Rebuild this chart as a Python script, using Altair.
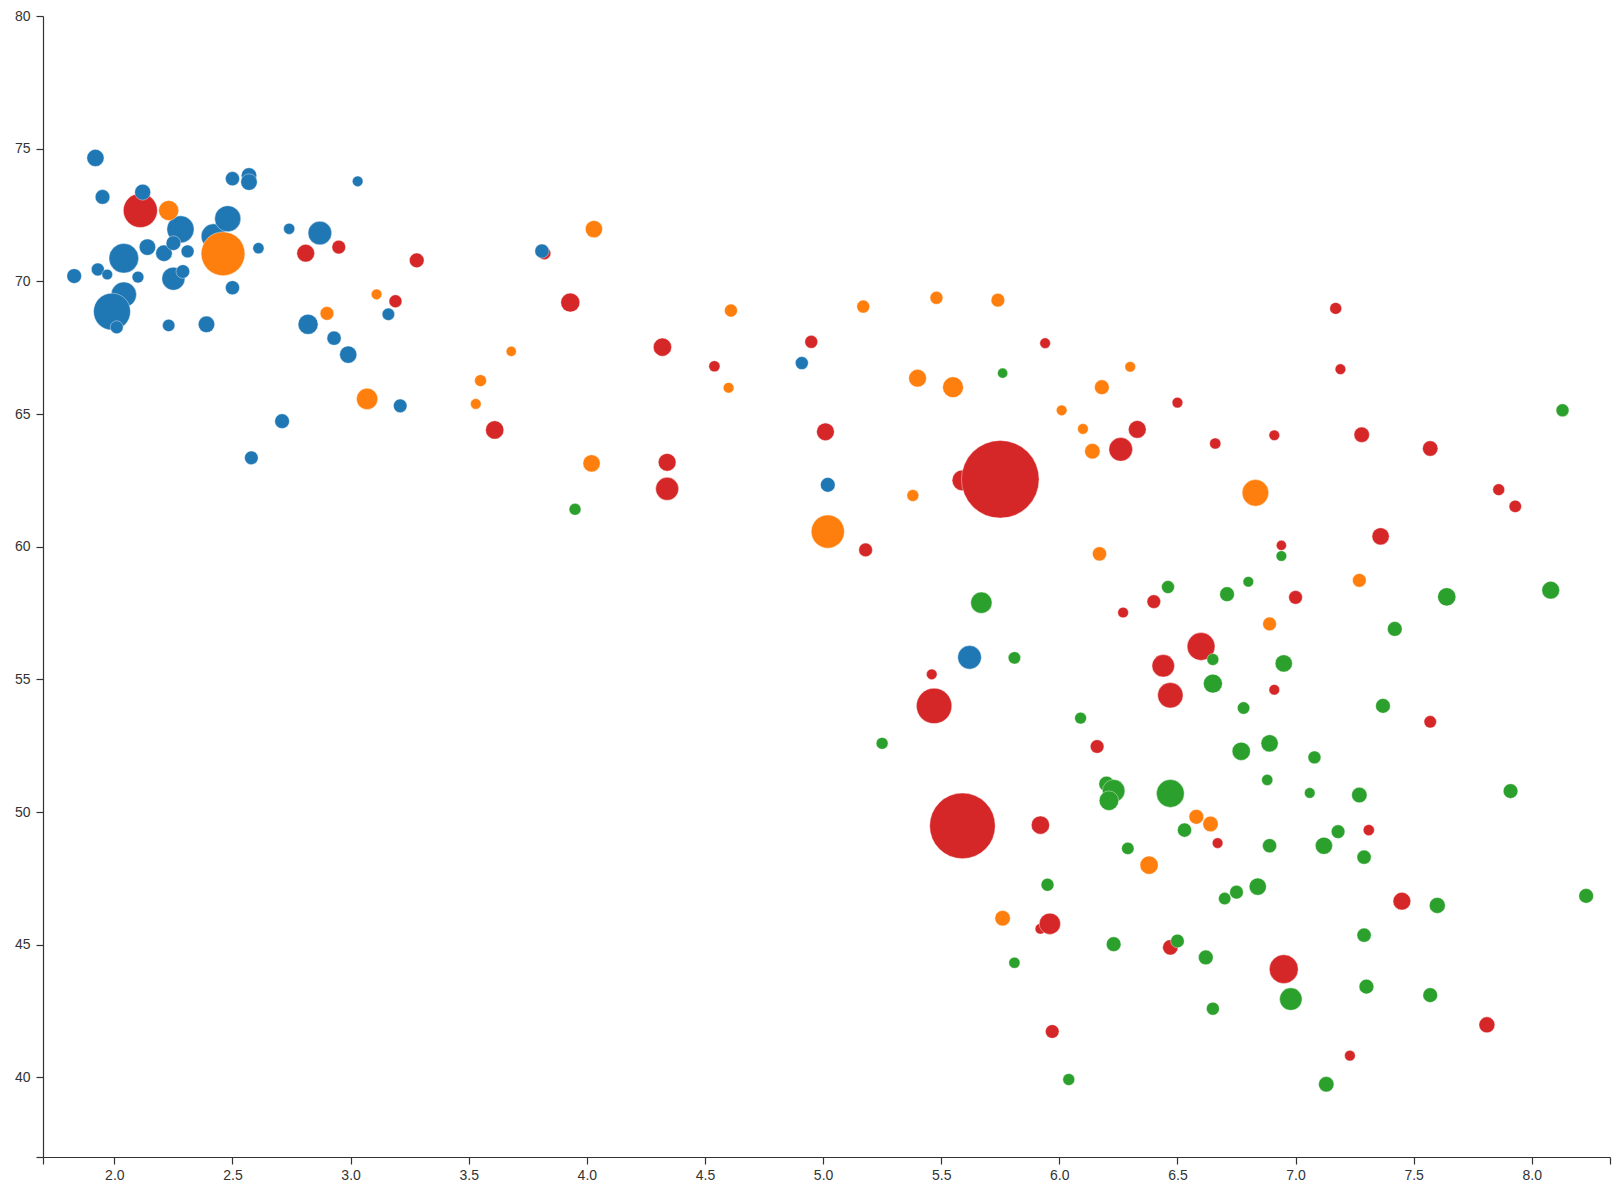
import altair as alt
import pandas as pd

# Asia (red)
asia_x = [5.59, 5.75, 5.59, 5.47, 2.11, 6.60, 6.47, 6.95, 6.44, 6.26, 4.34, 4.32, 4.34, 3.61, 3.93,
          2.81, 2.95, 3.28, 3.19, 3.82, 4.95, 4.54, 5.01, 5.18, 5.94, 6.50, 6.33, 6.66, 7.17, 7.19,
          6.91, 7.28, 7.57, 7.86, 7.93, 7.36, 6.94, 7.00, 6.40, 6.27, 5.46, 6.91, 7.57, 6.16, 5.92,
          6.67, 7.31, 7.45, 5.92, 5.96, 6.47, 5.97, 7.81, 7.23]
asia_y = [62.50, 62.54, 49.48, 54.00, 72.67, 56.24, 54.40, 44.08, 55.51, 63.67, 62.18, 67.52, 63.18, 64.40, 69.20,
          71.06, 71.29, 70.79, 69.25, 71.06, 67.72, 66.80, 64.33, 59.88, 67.67, 65.43, 64.42, 63.89, 68.98, 66.69,
          64.20, 64.22, 63.70, 62.15, 61.52, 60.39, 60.05, 58.09, 57.93, 57.52, 55.19, 54.61, 53.40, 52.47, 49.51,
          48.83, 49.32, 46.64, 45.60, 45.79, 44.90, 41.73, 41.98, 40.82]
asia_pop = [48.5, 820, 582, 162, 149, 96, 78, 104, 59, 66, 62, 35, 32.5, 35, 39,
            32.5, 15, 19, 12.3, 12.3, 12.3, 6.4, 32.5, 15, 4.8, 4.8, 32.5, 6.4, 8.6, 4.8,
            4.8, 22, 22, 8.6, 10.4, 30, 3.3, 15, 15, 4.8, 4.8, 4.8, 10.4, 15, 35,
            4.8, 6.4, 32.5, 4.8, 51.5, 22, 15, 24.3, 4.8]

# Europe (blue)
europe_x = [2.42, 1.92, 1.95, 2.12, 2.28, 2.48, 2.50, 2.57, 2.57, 3.03, 2.74, 2.87, 2.61, 2.14,
            2.04, 2.21, 2.25, 2.31, 1.83, 1.93, 1.97, 2.10, 2.25, 2.29, 2.50, 2.04, 1.99, 2.01,
            2.23, 2.39, 2.82, 3.16, 2.93, 2.99, 3.21, 2.71, 2.58, 3.81, 4.91, 5.02, 5.62]
europe_y = [71.70, 74.65, 73.18, 73.36, 71.96, 72.36, 73.87, 73.99, 73.74, 73.77, 71.98, 71.82, 71.25, 71.29,
            70.87, 71.06, 71.44, 71.13, 70.20, 70.45, 70.26, 70.16, 70.10, 70.37, 69.76, 69.50, 68.86, 68.27,
            68.34, 68.38, 68.38, 68.76, 67.86, 67.24, 65.31, 64.73, 63.35, 71.14, 66.92, 62.33, 55.83]
europe_pop = [74, 30, 19, 24.3, 90.6, 82.8, 16.9, 22, 26.6, 4.8, 6.4, 65.8, 6.4, 26.6,
              110, 26.6, 19, 12.3, 19, 12.3, 4.8, 8.6, 62.4, 14.9, 16.9, 77.7, 176.6, 12.3,
              10.4, 26.6, 44.5, 10.4, 16.9, 30, 14.9, 19, 14.9, 16.9, 12.3, 19, 65.8]

# Americas (orange)
americas_x = [2.46, 2.23, 2.90, 3.11, 3.07, 4.03, 3.68, 3.55, 3.53, 4.02, 4.61, 4.60, 5.17, 5.48, 5.74, 5.40,
              5.55, 6.30, 6.18, 6.01, 6.10, 6.14, 5.38, 5.02, 6.17, 6.83, 7.27, 6.89, 6.58, 6.64, 6.38, 5.76]
americas_y = [71.04, 72.67, 68.79, 69.51, 65.57, 71.97, 67.36, 66.26, 65.38, 63.14, 68.90, 65.99, 69.05, 69.38, 69.29, 66.35,
              66.01, 66.78, 66.01, 65.14, 64.44, 63.60, 61.93, 60.57, 59.73, 62.03, 58.73, 57.09, 49.82, 49.55, 48.00, 46.00]
americas_pop = [253, 44.5, 14.9, 4.8, 51.5, 30, 3.3, 8.6, 4.8, 30, 12.3, 4.8, 12.3, 12.3, 14.9, 32.5,
                48.5, 4.8, 19, 4.8, 4.8, 22, 8.6, 140.6, 16.9, 86.6, 14.9, 14.9, 19, 22, 35, 22]

# Africa (green)
africa_x = [3.95, 5.76, 8.13, 6.94, 6.80, 6.71, 7.64, 8.08, 7.42, 5.67, 6.46, 6.65, 6.65, 5.81, 6.95, 6.78, 7.37,
            5.25, 6.09, 6.77, 6.89, 7.08, 6.88, 7.06, 7.27, 7.91, 6.20, 6.23, 6.21, 6.47, 6.53, 6.29, 7.18,
            6.89, 7.12, 7.29, 5.95, 6.84, 6.75, 6.70, 7.60, 8.23, 7.29, 6.23, 6.50, 5.81, 6.62, 6.98, 7.30,
            7.57, 6.65, 7.13, 6.04]
africa_y = [61.41, 66.54, 65.14, 59.65, 58.68, 58.21, 58.11, 58.36, 56.90, 57.89, 58.48, 55.75, 54.84, 55.81, 55.60, 53.92, 54.00,
            52.59, 53.54, 52.29, 52.59, 52.06, 51.21, 50.72, 50.64, 50.79, 51.06, 50.80, 50.43, 50.70, 49.32, 48.63, 49.26,
            48.73, 48.73, 48.30, 47.26, 47.19, 46.98, 46.74, 46.48, 46.84, 45.36, 45.02, 45.14, 44.32, 44.52, 42.95, 43.42,
            43.10, 42.59, 39.74, 39.92]
africa_pop = [8.6, 3.3, 12.3, 4.8, 4.8, 19, 35, 32.5, 19, 51.5, 12.3, 8.6, 38.8, 10.4, 30, 10.4, 19,
              8.6, 8.6, 35, 30, 12.3, 6.4, 4.8, 22, 19, 22, 59, 41.6, 95.9, 16.9, 10.4, 14.9,
              16.9, 30, 16.9, 12.3, 30, 14.9, 10.4, 24.3, 19, 16.9, 19, 14.9, 6.4, 19, 59, 19,
              19, 12.3, 22, 8.6]

regions = ["Asia", "Europe", "Americas", "Africa"]
colors = ["#d62728", "#1f77b4", "#ff7f0e", "#2ca02c"]

frames = []
for name, xs, ys, ps in [("Asia", asia_x, asia_y, asia_pop),
                         ("Europe", europe_x, europe_y, europe_pop),
                         ("Americas", americas_x, americas_y, americas_pop),
                         ("Africa", africa_x, africa_y, africa_pop)]:
    frames.append(pd.DataFrame({"fertility": xs, "life": ys, "pop": ps, "region": name}))
df = pd.concat(frames, ignore_index=True)
df["idx"] = range(len(df))

x_min, x_max = 1.698, 8.331
y_min, y_max = 37.0, 80.0
x_ticks = [x_min] + [2.0 + 0.5 * i for i in range(13)] + [x_max]
y_ticks = [y_min] + [40 + 5 * i for i in range(9)]

axis_common = dict(
    grid=False, title=None, domainColor="#333", tickColor="#333", labelColor="#333",
    labelFont="Liberation Sans", labelFontSize=14, tickSize=7, domainWidth=1.2, tickWidth=1.2,
    labelFlush=False, labelOverlap=False, labelBound=False,
)

chart = alt.Chart(df).mark_circle(stroke="white", strokeWidth=0.5, strokeOpacity=0.8, opacity=1).encode(
    x=alt.X("fertility:Q",
            scale=alt.Scale(domain=[x_min, x_max], nice=False, zero=False),
            axis=alt.Axis(values=x_ticks, labelPadding=4,
                          labelExpr="datum.value < 1.9 || datum.value > 8.2 ? '' : format(datum.value, '.1f')",
                          **axis_common)),
    y=alt.Y("life:Q",
            scale=alt.Scale(domain=[y_min, y_max], nice=False, zero=False),
            axis=alt.Axis(values=y_ticks, labelPadding=6,
                          labelExpr="datum.value < 39 ? '' : format(datum.value, 'd')",
                          **axis_common)),
    size=alt.Size("pop:Q", scale=alt.Scale(type="linear", domain=[0, 820], range=[78.5, 6027], zero=False),
                  legend=None),
    color=alt.Color("region:N", scale=alt.Scale(domain=regions, range=colors), legend=None),
    order=alt.Order("idx:Q"),
).properties(
    width=1567, height=1141,
    autosize=alt.AutoSizeParams(type="none"),
    padding={"left": 43, "top": 16, "right": 9, "bottom": 37},
).configure_view(stroke=None)

chart.save("out.html", embed_options={"renderer": "svg", "actions": False})
